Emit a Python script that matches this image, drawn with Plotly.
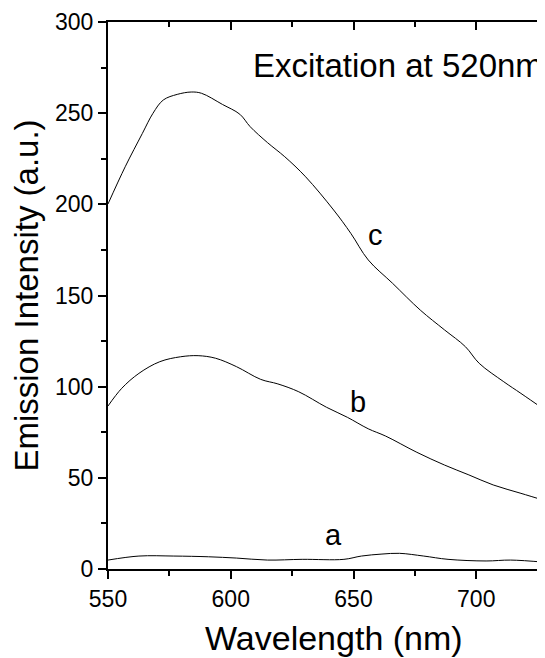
import plotly.graph_objects as go

# Curve c
wl_c = [550, 557, 564, 568.3, 572.5, 578.2, 583.9, 588.1, 596.6, 603.7, 607.9, 615, 622,
        630.5, 641.9, 648.9, 656, 665.9, 677.2, 687.1, 695.6, 701.2, 711.2, 718.2, 728]
int_c = [200.2, 220.6, 238.9, 249.9, 257.2, 260.3, 261.6, 260.9, 254.8, 249.4, 242.6, 233.8,
         226.1, 215.1, 196.9, 184.1, 169.5, 156.7, 142, 131.1, 121.9, 112.8, 102.7, 96.3, 87.2]

# Curve b
wl_b = [550, 555.6, 562.6, 571.1, 579.6, 586.7, 593.8, 602.3, 612.2, 619.2, 627.7, 639,
        647.5, 656, 663.1, 675.8, 687.1, 697, 706.9, 718.2, 728]
int_b = [89.4, 99.1, 107.3, 113.7, 116.4, 117, 115.6, 111, 104, 101.5, 97.2, 88.7,
         83.2, 76.9, 72.9, 64, 57, 51.6, 46.1, 41.5, 37.5]

# Curve a
wl_a = [550, 562.6, 576.8, 590.9, 602.3, 615, 629.1, 646.1, 653.2, 661.6, 668.7, 678.6,
        688.5, 704, 714, 728]
int_a = [4.9, 7.1, 7.1, 6.7, 6.0, 4.9, 5.3, 5.3, 7.1, 8.2, 8.6, 7.1, 5.3, 4.4, 4.9, 3.7]

curve_labels = ["a", "b", "c"]
label_x = [641.9, 651.7, 658.8]
label_y = [18.6, 91.8, 183]

x_ticks = [550, 600, 650, 700]
x_minor = [575, 625, 675, 725]
y_ticks = [0, 50, 100, 150, 200, 250, 300]
y_minor = [25, 75, 125, 175, 225, 275]

FONT = "Arial, Liberation Sans, sans-serif"
X_RANGE = [550, 728]

fig = go.Figure()
for xs, ys in [(wl_a, int_a), (wl_b, int_b), (wl_c, int_c)]:
    fig.add_trace(go.Scatter(x=xs, y=ys, mode="lines", line=dict(color="black", width=1, shape="spline"),
                             showlegend=False, hoverinfo="skip"))
# invisible trace for the top axis
fig.add_trace(go.Scatter(x=[X_RANGE[0]], y=[None], xaxis="x2", yaxis="y", showlegend=False,
                         mode="lines", hoverinfo="skip"))

for t, x, y in zip(curve_labels, label_x, label_y):
    fig.add_annotation(x=x, y=y, text=t, showarrow=False, font=dict(size=29, color="black", family=FONT))

fig.add_annotation(xref="paper", yref="paper", x=1.0, y=0.9196, xanchor="right", yanchor="middle",
                   text="Excitation at 520nm", showarrow=False,
                   font=dict(size=33, color="black", family=FONT))

fig.add_annotation(xref="paper", yref="paper", x=0.517, y=-0.1258, xanchor="center", yanchor="middle",
                   text="Wavelength (nm)", showarrow=False,
                   font=dict(size=34, color="black", family=FONT))

fig.update_layout(
    width=537, height=650,
    margin=dict(l=100, r=0, t=14, b=89),
    paper_bgcolor="white", plot_bgcolor="white",
    font=dict(family=FONT, color="black"),
    xaxis=dict(range=X_RANGE, showgrid=False, zeroline=False, showline=True, linecolor="black",
               linewidth=2, ticks="outside", ticklen=8, tickwidth=1.5, tickcolor="black",
               tickvals=x_ticks, tickfont=dict(size=23),
               minor=dict(tickvals=x_minor, ticks="outside", ticklen=5, tickcolor="black", tickwidth=1.5)),
    xaxis2=dict(range=X_RANGE, overlaying="x", side="top", showgrid=False, zeroline=False,
                showline=True, linecolor="black", linewidth=2, ticks="inside", ticklen=8, tickwidth=1.5,
                tickcolor="black", tickvals=x_ticks, showticklabels=False,
                minor=dict(tickvals=x_minor, ticks="inside", ticklen=5, tickcolor="black", tickwidth=1.5)),
    yaxis=dict(range=[0, 300], showgrid=False, zeroline=False, showline=True, linecolor="black",
               linewidth=2, ticks="outside", ticklen=8, tickwidth=1.5, tickcolor="black",
               tickvals=y_ticks, tickfont=dict(size=23),
               minor=dict(tickvals=y_minor, ticks="outside", ticklen=5, tickcolor="black", tickwidth=1.5),
               title=dict(text="Emission Intensity (a.u.)", font=dict(size=33), standoff=8)),
)

fig.write_html("out.html")
